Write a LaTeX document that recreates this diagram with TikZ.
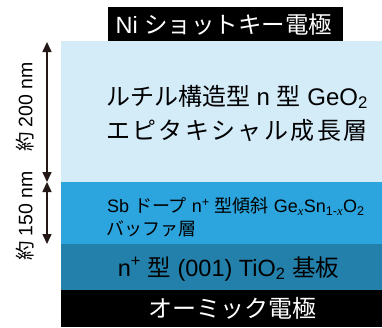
\documentclass[tikz,border=0pt]{standalone}
\usepackage{fontspec}
\setmainfont{Liberation Sans}
\newfontfamily\jp{Noto Sans CJK JP}
\newfontfamily\jpw{Noto Sans CJK JP}[LetterSpace=10]
\newfontfamily\serifit{Liberation Serif}[UprightFont=*-Italic]
\usetikzlibrary{arrows.meta}
\definecolor{lb}{HTML}{D4EBF8}
\definecolor{mb}{HTML}{2CA5DE}
\definecolor{db}{HTML}{2380AB}
\definecolor{arr}{HTML}{231815}
\newcommand{\myvarx}{{\serifit x}}
\begin{document}
\begin{tikzpicture}[x=1pt,y=-1pt,
  txt/.style={inner sep=0pt,outer sep=0pt},
  dim/.style={draw=arr,line width=1.5pt,{Triangle[width=9pt,length=10pt]}-{Triangle[width=9pt,length=10pt]}}]
\useasboundingbox (0,0) rectangle (382,327);
\fill[white] (0,0) rectangle (382,327);
\fill[lb] (61,41) rectangle (382,182);
\fill[mb] (61,182) rectangle (382,244);
\fill[db] (61,244) rectangle (382,290);
\fill[black] (61,290) rectangle (382,327);
\fill[black] (108,7) rectangle (343,41);
\node[txt,text=white,font=\fontsize{23.5}{26}\selectfont,anchor=base] (ni) at (224,33.5) {Ni {\jp ショットキー電極}};
\node[txt,font=\fontsize{24}{28}\selectfont,anchor=base west] (geo) at (106,105) {{\jp ルチル構造型} n {\jp 型} GeO\textsubscript{2}};
\node[txt,font=\fontsize{24}{28}\selectfont,anchor=base west] (epi) at (106,139) {\jpw エピタキシャル成長層};
\node[txt,font=\fontsize{18}{20}\selectfont,anchor=base west] (sb) at (107,212.5) {Sb {\jp ドープ} n\textsuperscript{+} {\jp 型傾斜} Ge\textsubscript{\myvarx}Sn\textsubscript{1-\myvarx}O\textsubscript{2}};
\node[txt,font=\fontsize{18}{20}\selectfont,anchor=base west] (buf) at (106,235) {\jp バッファ層};
\node[txt,font=\fontsize{23.5}{26}\selectfont,anchor=base] (tio) at (228.5,276) {n\textsuperscript{+} {\jp 型} (001) TiO\textsubscript{2} {\jp 基板}};
\node[txt,text=white,font=\fontsize{24}{26}\selectfont,anchor=base] (ohm) at (232,317) {\jp オーミック電極};
\coordinate (a1) at (47,42);
\coordinate (a2) at (47,182);
\coordinate (a3) at (47,244);
\draw[dim] (a1) -- (a2);
\draw[dim] (a2) -- (a3);
\node[txt,rotate=90,font=\fontsize{19.5}{22}\selectfont] (d1) at (25,107) {{\jp 約} 200 nm};
\node[txt,rotate=90,font=\fontsize{19.5}{22}\selectfont] (d2) at (25,216) {{\jp 約} 150 nm};
\end{tikzpicture}
\end{document}
